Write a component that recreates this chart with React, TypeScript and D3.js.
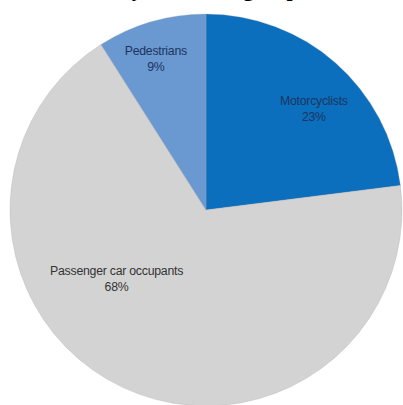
import { useEffect, useRef } from "react";
import * as d3 from "d3";

// road user groups, clockwise from 12 o'clock
const groups = ["Motorcyclists", "Passenger car occupants", "Pedestrians"];
const shares = [23, 68, 9];
const colors = ["#0b6fbe", "#d3d3d3", "#6a99d2"];
const labelColors = ["#1b3560", "#333333", "#1b3560"];
// label nudges from the arc centroid (Excel "best fit")
const labelAngle = [5, 28, -2];
const labelRadius = [0.76, 0.57, 0.82];

const title = "Road traffic deaths by road user group";

const W = 403;
const H = 405;

const App = () => {
  const ref = useRef<SVGSVGElement | null>(null);

  useEffect(() => {
    const svg = d3.select(ref.current);
    svg.selectAll("*").remove();

    const cx = 206;
    const cy = 210;
    const r = 196;

    const data = groups.map((g, i) => ({ group: g, value: shares[i], i }));
    const pie = d3
      .pie<(typeof data)[number]>()
      .value((d) => d.value)
      .sort(null);
    const arcs = pie(data);
    const arc = d3.arc<d3.PieArcDatum<(typeof data)[number]>>().innerRadius(0).outerRadius(r);

    // title sits above the crop, only the descenders show
    svg
      .append("text")
      .attr("x", 116)
      .attr("y", -4.5)
      .attr("text-anchor", "middle")
      .attr("font-family", "Liberation Serif, serif")
      .attr("font-weight", "bold")
      .attr("font-size", 22)
      .text(title);

    const g = svg.append("g").attr("transform", `translate(${cx},${cy})`);

    g.selectAll("path")
      .data(arcs)
      .join("path")
      .attr("d", arc)
      .attr("fill", (d) => colors[d.data.i])
      .attr("stroke", "#a8a8a8")
      .attr("stroke-width", 0.3);

    const lab = g
      .selectAll("text")
      .data(arcs)
      .join("text")
      .attr("transform", (d) => {
        const a = (d.startAngle + d.endAngle) / 2 + (labelAngle[d.data.i] * Math.PI) / 180;
        const rr = r * labelRadius[d.data.i];
        return `translate(${rr * Math.sin(a)},${-rr * Math.cos(a)})`;
      })
      .attr("text-anchor", "middle")
      .attr("font-family", "Liberation Sans, Arial, sans-serif")
      .attr("font-size", 12.3)
      .attr("letter-spacing", -0.25)
      .attr("fill", (d) => labelColors[d.data.i]);

    lab
      .append("tspan")
      .attr("x", 0)
      .attr("y", -2)
      .text((d) => d.data.group);
    lab
      .append("tspan")
      .attr("x", 0)
      .attr("y", 14)
      .text((d) => `${d.data.value}%`);
  }, []);

  return (
    <svg
      ref={ref}
      width={W}
      height={H}
      style={{ position: "absolute", left: 0, top: 0, display: "block", background: "#fff" }}
    />
  );
};

export default App;
